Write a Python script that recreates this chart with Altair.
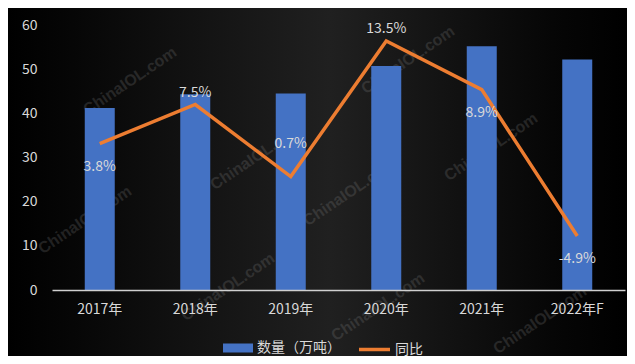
import altair as alt
import pandas as pd

# ---- data ----
YEARS = ["2017年", "2018年", "2019年", "2020年", "2021年", "2022年F"]
VOLUME = [41.2, 44.3, 44.5, 50.7, 55.2, 52.2]          # 数量（万吨）
GROWTH = [3.8, 7.5, 0.7, 13.5, 8.9, -4.9]              # 同比 (%)
SERIES = ["数量（万吨）", "同比"]
Y_TICKS = [0, 10, 20, 30, 40, 50, 60]

LABEL_ABOVE = ["2018年", "2020年"]
LABEL_HIGH = ["2019年"]
LABEL_BELOW = ["2017年", "2021年", "2022年F"]

WATERMARK = "ChinaIOL.com"

df = pd.DataFrame({"year": YEARS, "volume": VOLUME, "growth": GROWTH})

# ---- style ----
W, H = 573, 265
PAD = {"left": 44, "top": 17, "right": 2, "bottom": 66}
FONT = "Noto Sans CJK SC"
TXT = "#d9d9d9"
BLUE = "#4472C4"
ORANGE = "#ED7D31"

# decorative watermark spots (plot-relative pixels)
WM_SPOTS = [(78, 56), (205, 131), (33, 195), (176, 262), (356, 35),
            (439, 122), (326, 282), (488, 295), (298, 167)]

bar_legend = alt.Legend(
    title=None, orient="none", legendX=171, legendY=308, direction="horizontal",
    labelColor=TXT, labelFontSize=14, labelFont=FONT, labelOffset=4,
    symbolSize=900, symbolType="M-1,-0.3H1V0.3H-1Z", symbolStrokeWidth=0,
    symbolOpacity=1, padding=0, zindex=3,
)
line_legend = alt.Legend(
    title=None, orient="none", legendX=305, legendY=307, direction="horizontal",
    labelColor=TXT, labelFontSize=14, labelFont=FONT, labelOffset=3,
    symbolSize=961, symbolType="stroke", symbolStrokeWidth=3.5,
    symbolOpacity=1, padding=0, zindex=3,
)

x_enc = alt.X(
    "year:N", sort=YEARS, title=None,
    scale=alt.Scale(paddingInner=0.686, paddingOuter=0.343),
    axis=alt.Axis(labelAngle=0, labelColor=TXT, labelFontSize=14, labelFont=FONT,
                  labelPadding=12, ticks=False, domainColor="#d0d0d0",
                  domainWidth=1.5, grid=False, zindex=2),
)

base = alt.Chart(df)

bg = alt.Chart(alt.Data(values=[{"k": 1}])).mark_rect(
    fill={
        "gradient": "linear", "x1": 0, "y1": 0, "x2": 1, "y2": 0,
        "stops": [
            {"offset": 0, "color": "#000000"},
            {"offset": 0.12, "color": "#070707"},
            {"offset": 0.52, "color": "#202020"},
            {"offset": 0.88, "color": "#060606"},
            {"offset": 1, "color": "#000000"},
        ],
    }
).encode(
    x=alt.value(-PAD["left"]), x2=alt.value(W + PAD["right"]),
    y=alt.value(-PAD["top"]), y2=alt.value(H + PAD["bottom"]),
)

wm_layers = [
    alt.Chart(alt.Data(values=[{"t": WATERMARK}])).mark_text(
        fontSize=16, fontWeight="bold", font="Liberation Sans", color="#8a8a8a",
        opacity=0.22, angle=326, align="center", baseline="middle",
    ).encode(text="t:N", x=alt.value(px), y=alt.value(py))
    for px, py in WM_SPOTS
]

bars = base.mark_bar(size=30).transform_calculate(
    series="'数量（万吨）'"
).encode(
    x=x_enc,
    y=alt.Y("volume:Q", title=None, scale=alt.Scale(domain=[0, 60], nice=False),
            axis=alt.Axis(values=Y_TICKS, labelColor=TXT, labelFontSize=14,
                          labelFont=FONT, labelPadding=15, ticks=False,
                          domain=False, grid=False, zindex=2)),
    fill=alt.Fill("series:N", scale=alt.Scale(domain=[SERIES[0]], range=[BLUE]),
                  legend=bar_legend),
)

y_growth = alt.Y("growth:Q", scale=alt.Scale(domain=[-10, 15], nice=False), axis=None)

line = base.mark_line(strokeWidth=3.5, strokeJoin="miter").transform_calculate(
    series="'同比'"
).encode(
    x=x_enc, y=y_growth,
    stroke=alt.Stroke("series:N", scale=alt.Scale(domain=[SERIES[1]], range=[ORANGE]),
                      legend=line_legend),
)


def labels(years, dy):
    return base.transform_filter(
        alt.FieldOneOfPredicate(field="year", oneOf=years)
    ).transform_calculate(
        label="toString(datum.growth) + '%'"
    ).mark_text(
        fontSize=14, font=FONT, color=TXT, dy=dy, baseline="middle"
    ).encode(x=x_enc, y=y_growth, text="label:N")


line_layer = alt.layer(
    line,
    labels(LABEL_ABOVE, -12),
    labels(LABEL_HIGH, -33),
    labels(LABEL_BELOW, 23),
)

chart = alt.layer(bg, *wm_layers, bars, line_layer).resolve_scale(
    y="independent"
).properties(
    width=W, height=H, autosize="none", padding=PAD, background="#000000"
).configure(font=FONT).configure_view(stroke=None)

chart.save("out.html", embed_options={"renderer": "svg", "actions": False})
